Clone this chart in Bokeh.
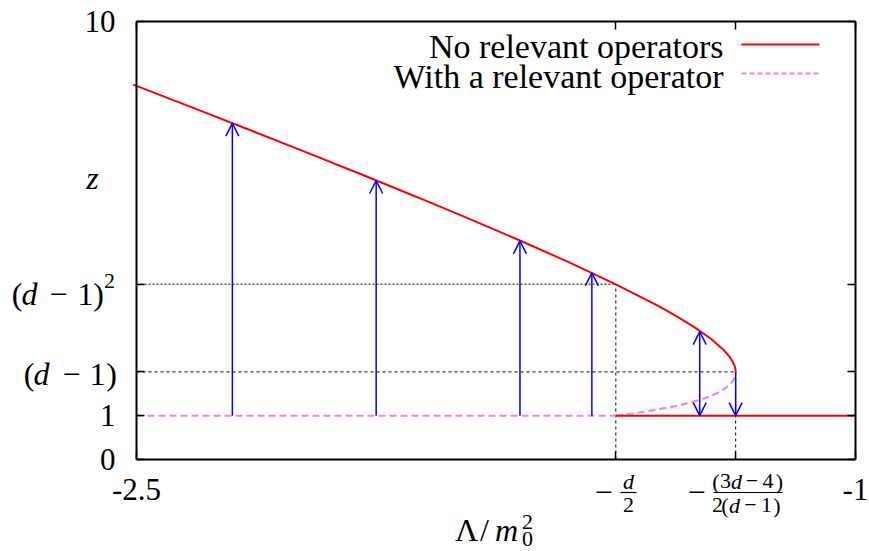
from bokeh.plotting import figure
from bokeh.models import Range1d, FixedTicker, LinearAxis, Arrow, OpenHead, ColumnDataSource
from bokeh.embed import file_html
from bokeh.resources import INLINE

# ---------------- data (d = 3) ----------------
# upper branch  (red, "No relevant operators")
upper_z = [2.0, 2.05, 2.1, 2.15, 2.25, 2.35, 2.5, 2.75, 3.0, 3.25, 3.5, 4.0,
           4.5, 5.0, 5.5, 6.0, 6.5, 7.0, 7.5, 8.0, 8.56]
upper_x = [-1.25, -1.2503, -1.2512, -1.2526, -1.2569, -1.2630, -1.275, -1.3011,
           -1.3333, -1.3702, -1.4107, -1.5, -1.5972, -1.7, -1.8068, -1.9167,
           -2.0288, -2.1429, -2.2583, -2.375, -2.5068]
# lower branch (violet dashed, "With a relevant operator")
lower_z = [1.0, 1.05, 1.1, 1.2, 1.3, 1.4, 1.5, 1.6, 1.7, 1.8, 1.9, 1.95, 2.0]
lower_x = [-1.5, -1.4649, -1.4341, -1.3833, -1.3442, -1.3143, -1.2917, -1.275,
           -1.2632, -1.2556, -1.2513, -1.2503, -1.25]
# plateau z = 1
plateau_violet_x = [-2.5, -1.5]
plateau_red_x = [-1.5, -1.0]
plateau_z = [1.0, 1.0]

# arrows
arrow_x = [-2.30, -2.00, -1.70, -1.55, -1.325, -1.25]
arrow_from = [1.0, 1.0, 1.0, 1.0, 1.0, 2.0]
arrow_to = [7.68, 6.37, 4.99, 4.26, 2.92, 1.0]
arrow_both = [False, False, False, False, True, False]

# guide levels
z_d1 = 2.0          # (d-1)
z_d1sq = 4.0        # (d-1)^2
x_half_d = -1.5     # -d/2
x_frac = -1.25      # -(3d-4)/(2(d-1))

X_MIN, X_MAX, Y_MIN, Y_MAX = -2.5, -1.0, 0.0, 10.0
x_ticks = [-2.5, -1.5, -1.25, -1.0]
y_ticks = [0, 1, 2, 4, 10]
x_tick_labels = {-2.5: "-2.5", -1.5: "", -1.25: "", -1.0: "-1"}
y_tick_labels = {0: "0", 1: "1", 2: "", 4: "", 10: "10"}

legend_labels = ["No relevant operators", "With a relevant operator"]

RED = "#ff0000"
VIOLET = "#ee82ee"
BLUE = "#0000ff"
FONT = "Liberation Serif"

# ---------------- canvas / placement helpers ----------------
W, H = 869, 551
PX_L, PX_R, PY_T, PY_B = 136.0, 855.0, 21.0, 459.0   # where the data window sits on the canvas


def sx(px):
    return X_MIN + (px - PX_L) * (X_MAX - X_MIN) / (PX_R - PX_L)


def sy(py):
    return Y_MIN + (PY_B - py) * (Y_MAX - Y_MIN) / (PY_B - PY_T)


def base(py, size):
    # text baseline correction (renderer draws 'alphabetic' text slightly low)
    return sy(py - (2 + 0.2 * size))


p = figure(width=W, height=H, x_range=Range1d(sx(0), sx(W)), y_range=Range1d(sy(H), sy(0)),
           output_backend="svg", toolbar_location=None,
           min_border=0, min_border_left=0, min_border_right=0,
           min_border_top=0, min_border_bottom=0)
p.grid.visible = False
p.outline_line_color = None
p.background_fill_color = "white"
p.border_fill_color = "white"


def style_axis(ax, ticks, overrides, loc, bounds, size="31px", standoff=19):
    ax.fixed_location = loc
    ax.bounds = bounds
    ax.ticker = FixedTicker(ticks=ticks)
    ax.major_tick_in = 8
    ax.major_tick_out = 0
    ax.minor_tick_line_color = None
    ax.axis_line_color = "black"
    ax.axis_line_width = 2
    ax.major_tick_line_width = 1.5
    ax.major_tick_line_color = "black"
    ax.major_label_overrides = overrides
    ax.major_label_text_font = FONT
    ax.major_label_text_font_size = size
    ax.major_label_text_color = "black"
    ax.major_label_standoff = standoff


style_axis(p.xaxis[0], x_ticks, x_tick_labels, Y_MIN, (X_MIN, X_MAX), standoff=19)
style_axis(p.yaxis[0], y_ticks, y_tick_labels, X_MIN, (Y_MIN, Y_MAX), standoff=21)
top_ax = LinearAxis()
style_axis(top_ax, x_ticks, {t: "" for t in x_ticks}, Y_MAX, (X_MIN, X_MAX), size="1px", standoff=0)
p.add_layout(top_ax, "above")
right_ax = LinearAxis()
style_axis(right_ax, y_ticks, {t: "" for t in y_ticks}, X_MAX, (Y_MIN, Y_MAX), size="1px", standoff=0)
p.add_layout(right_ax, "right")

# ---------------- guides ----------------
p.line([X_MIN, x_half_d], [z_d1sq, z_d1sq], line_color="#555555", line_width=1.5, line_dash="2 2")
p.line([x_half_d, x_half_d], [Y_MIN, z_d1sq], line_color="black", line_width=1, line_dash="3 3")
p.line([X_MIN, x_frac], [z_d1, z_d1], line_color="black", line_width=1, line_dash="3 3")
p.line([x_frac, x_frac], [Y_MIN, z_d1], line_color="black", line_width=1, line_dash="3 3")

# ---------------- curves ----------------
p.line(plateau_violet_x, plateau_z, line_color=VIOLET, line_width=2, line_dash="7 4")
p.line(lower_x, lower_z, line_color=VIOLET, line_width=2.2, line_dash="7 4")
p.line(upper_x, upper_z, line_color=RED, line_width=2)
p.line(plateau_red_x, plateau_z, line_color=RED, line_width=2)

# ---------------- arrows ----------------
for xa, z0, z1, both in zip(arrow_x, arrow_from, arrow_to, arrow_both):
    p.add_layout(Arrow(x_start=xa, y_start=z0, x_end=xa, y_end=z1,
                       line_color=BLUE, line_width=1.5,
                       end=OpenHead(size=13, line_color=BLUE, line_width=1.5),
                       start=OpenHead(size=13, line_color=BLUE, line_width=1.5) if both else None))

# ---------------- math labels (runs of text, canvas px -> data) ----------------
runs = []  # (text, center px, baseline px, size, style)
# (d-1) at z = 2
for s, cx, st in [("(", 28.5, "normal"), ("d", 41, "italic"), ("\u2212", 71, "normal"),
                  ("1", 97, "normal"), (")", 111, "normal")]:
    runs.append((s, cx, 382, 32, st))
# (d-1)^2 at z = 4
for s, cx, st in [("(", 16.5, "normal"), ("d", 29, "italic"), ("\u2212", 58, "normal"),
                  ("1", 85, "normal"), (")", 98, "normal")]:
    runs.append((s, cx, 302, 32, st))
runs.append(("2", 109, 287, 22, "normal"))
# y axis label
runs.append(("z", 92, 186, 32, "italic"))
# -d/2
runs.append(("\u2212", 603, 500, 32, "normal"))
runs.append(("d", 628, 487, 22, "italic"))
runs.append(("2", 628, 511, 22, "normal"))
# -(3d-4)/(2(d-1))
runs.append(("\u2212", 696, 500, 32, "normal"))
for s, cx, st in [("(", 715.5, "normal"), ("3", 725, "normal"), ("d", 736, "italic"),
                  ("\u2212", 751.5, "normal"), ("4", 767.5, "normal"), (")", 779, "normal")]:
    runs.append((s, cx, 487, 22, st))
for s, cx, st in [("2", 717, "normal"), ("(", 724.5, "normal"), ("d", 734, "italic"),
                  ("\u2212", 750, "normal"), ("1", 766, "normal"), (")", 776.5, "normal")]:
    runs.append((s, cx, 511, 22, st))
# x axis label  Λ/m_0^2
runs.append(("\u039b", 466, 538, 32, "normal"))
runs.append(("/", 484, 538, 32, "normal"))
runs.append(("m", 506, 538, 32, "italic"))
runs.append(("2", 527, 528, 22, "normal"))
runs.append(("0", 527, 545, 22, "normal"))

run_src = ColumnDataSource(dict(
    x=[sx(r[1]) for r in runs], y=[base(r[2], r[3]) for r in runs], text=[r[0] for r in runs],
    size=[f"{r[3]}px" for r in runs], style=[r[4] for r in runs]))
p.text(x="x", y="y", text="text", source=run_src, text_font={"value": FONT},
       text_font_size="size", text_font_style="style", text_align="center",
       text_baseline="alphabetic", text_color="black")

# fraction bars
p.segment(x0=[sx(620), sx(713)], y0=[sy(492), sy(492)], x1=[sx(636), sx(782)], y1=[sy(492), sy(492)],
          line_color="black", line_width=1.2)

# ---------------- legend (labels left of keys, as in the reference) ----------------
leg_src = ColumnDataSource(dict(x=[sx(723), sx(723)], y=[base(55, 34), base(85, 34)], text=legend_labels))
p.text(x="x", y="y", text="text", source=leg_src, text_font={"value": FONT},
       text_font_size="34px", text_align="right", text_baseline="alphabetic", text_color="black")
p.line([sx(741), sx(819)], [sy(44), sy(44)], line_color=RED, line_width=2)
p.line([sx(741), sx(819)], [sy(73), sy(73)], line_color=VIOLET, line_width=2, line_dash="5 3")

open("out.html", "w").write(file_html(p, INLINE))
